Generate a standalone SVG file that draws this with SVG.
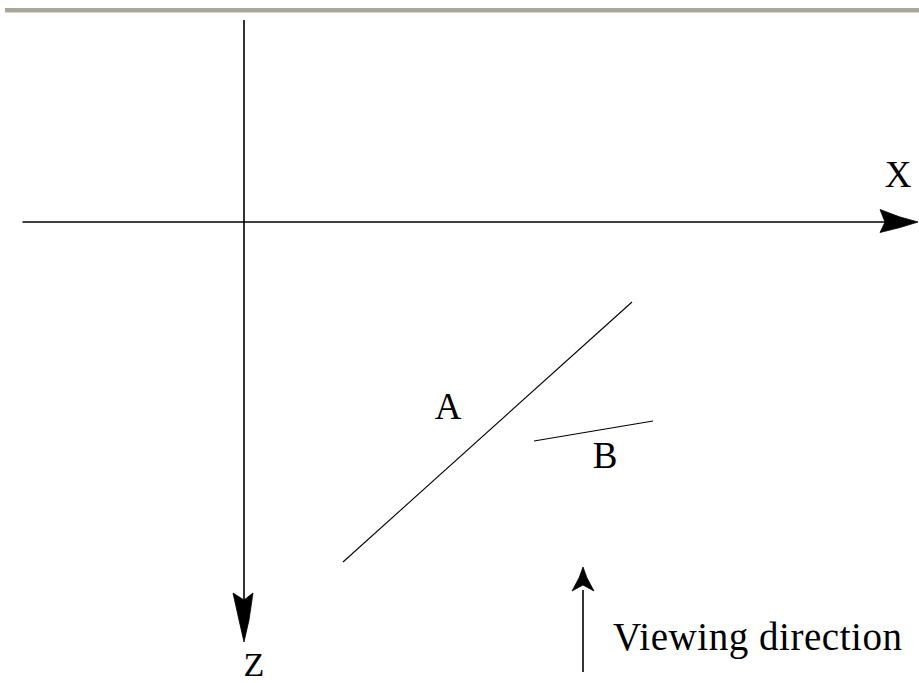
<svg xmlns="http://www.w3.org/2000/svg" width="919" height="683" viewBox="0 0 919 683">
<style>
.ax{stroke:#000;stroke-width:1.6;fill:none}
.ln{stroke:#000;stroke-width:1.1;fill:none}
.hd{fill:#000;stroke:#000;stroke-width:0.8;stroke-linejoin:miter}
text{font-family:"Liberation Serif","Times New Roman",serif;fill:#000}
</style>
<rect x="0" y="0" width="919" height="683" fill="#fff"/>
<rect x="5" y="8" width="914" height="4" fill="#a9a59c"/>
<rect x="5" y="12" width="914" height="1" fill="#d8d5cf"/>
<g id="connectors">
<line class="ax" x1="22.5" y1="222" x2="890" y2="222"/>
<polygon class="hd" points="918,222 900,217 880,209.5 885,222 880,232.5 900,227.5"/>
<line class="ax" x1="244" y1="20" x2="244" y2="615"/>
<polygon class="hd" points="244,642 239,620 233,593 244,600 253,593 249,620"/>
<line class="ax" x1="583" y1="672" x2="583" y2="590"/>
<polygon class="hd" points="583,567 587,578 594,591 583,585 572,591 579,578"/>
</g>
<g id="lineA">
<line class="ln" x1="343" y1="562" x2="632" y2="302"/>
<text x="448" y="419" font-size="37" text-anchor="middle">A</text>
</g>
<g id="lineB">
<line class="ln" x1="534" y1="441" x2="653" y2="421"/>
<text x="605" y="468" font-size="37" text-anchor="middle">B</text>
</g>
<g id="labels">
<text x="898" y="187" font-size="37" text-anchor="middle">X</text>
<text x="254" y="676" font-size="34" text-anchor="middle">Z</text>
<text x="613" y="650" font-size="39" textLength="289" lengthAdjust="spacing">Viewing direction</text>
</g>
</svg>
